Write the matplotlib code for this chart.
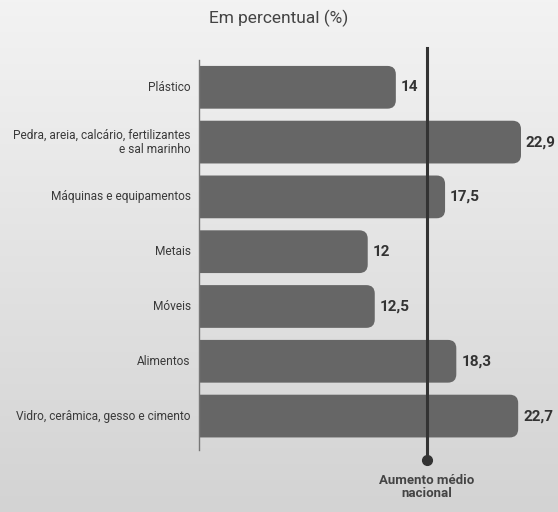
import matplotlib.pyplot as plt
import numpy as np
from matplotlib.patches import FancyBboxPatch
from matplotlib.transforms import blended_transform_factory, offset_copy

# dados
categorias = ["Plástico", "Pedra, areia, calcário, fertilizantes\ne sal marinho",
              "Máquinas e equipamentos", "Metais", "Móveis", "Alimentos",
              "Vidro, cerâmica, gesso e cimento"]
valores = [14, 22.9, 17.5, 12, 12.5, 18.3, 22.7]
rotulos = ["14", "22,9", "17,5", "12", "12,5", "18,3", "22,7"]
media_nacional = 16.2

plt.rcParams['font.family'] = ['Roboto', 'DejaVu Sans']

fig = plt.figure(figsize=(5.58, 5.12), dpi=100)

# fundo em degradê
bg = fig.add_axes([0, 0, 1, 1], zorder=-10)
grad = np.linspace(0, 1, 256).reshape(-1, 1)
bg.imshow(grad, aspect="auto", cmap=plt.matplotlib.colors.LinearSegmentedColormap.from_list(
    "g", ["#f3f3f3", "#d3d3d3"]), extent=[0, 1, 0, 1], origin="upper")
bg.axis("off")

ax = fig.add_axes([0.3566, 0.121, 0.63, 0.762])
ax.patch.set_alpha(0)
for i, v in enumerate(valores):
    p = FancyBboxPatch((-1, i - 0.39), v + 1, 0.78,
                       boxstyle="round,pad=0,rounding_size=0.6",
                       mutation_aspect=0.257, fc="#666666", ec="none")
    ax.add_patch(p)
    ax.text(v + 0.35, i, rotulos[i], va="center", ha="left", fontsize=11,
            fontweight="bold", color="#333333")

# rótulos das categorias (alinhados à direita)
tr = offset_copy(blended_transform_factory(ax.transAxes, ax.transData),
                 fig=fig, x=-6, y=0, units="points")
for i, c in enumerate(categorias):
    ax.text(0, i, c, transform=tr, ha="right", va="center", multialignment="right",
            fontsize=8.6, color="#3a3a3a", linespacing=1.15)

ax.set_xlim(0, 25)
ax.set_ylim(6.62, -0.5)
ax.set_yticks([])
ax.set_xticks([])
for s in ["top", "right", "bottom"]:
    ax.spines[s].set_visible(False)
ax.spines["left"].set_color("#777777")
ax.spines["left"].set_linewidth(1)

# linha da média nacional
ax.plot([media_nacional, media_nacional], [-0.72, 6.8], color="#333333", lw=2.2,
        clip_on=False, zorder=5)
ax.plot([media_nacional], [6.8], "o", color="#333333", ms=7, clip_on=False, zorder=5)
ax.text(media_nacional, 7.05, "Aumento médio\nnacional", ha="center", va="top",
        fontsize=9.5, fontweight="bold", color="#444444", linespacing=1.05)

fig.text(0.5, 0.965, "Em percentual (%)", ha="center", va="center", fontsize=12.5,
         color="#444444", fontstretch="condensed")

fig.savefig("out.png", dpi=100)
